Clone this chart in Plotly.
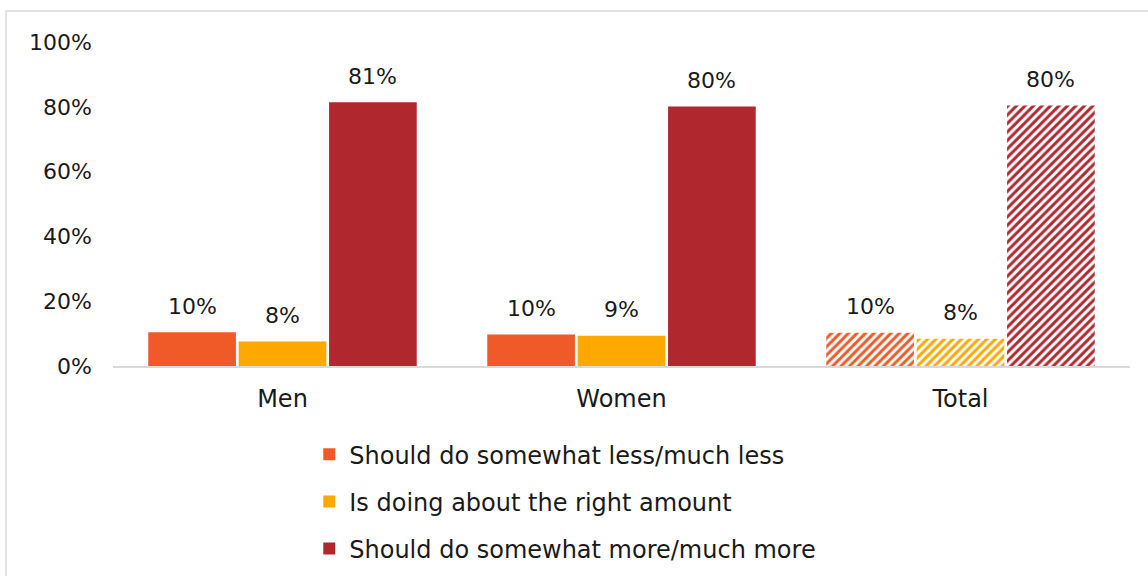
import plotly.graph_objects as go

categories = ["Men", "Women", "Total"]
series_names = [
    "Should do somewhat less/much less",
    "Is doing about the right amount",
    "Should do somewhat more/much more",
]
less_vals = [10.4, 9.7, 10.3]
right_vals = [7.6, 9.3, 8.4]
more_vals = [81.4, 80.1, 80.4]
colors = ["#F05A28", "#FFA800", "#B0282E"]
y_ticks = [0, 20, 40, 60, 80, 100]

FONT = "'DejaVu Sans', sans-serif"
TXT = "#1a1a1a"

W, H = 1148, 576
ML, MR, MT, MB = 113, 18, 42, 210
BARGAP = 0.2

all_vals = [less_vals, right_vals, more_vals]

fig = go.Figure()
for i, (name, vals, col) in enumerate(zip(series_names, all_vals, colors)):
    fig.add_trace(go.Bar(
        x=categories, y=vals, name=name,
        marker=dict(
            color=col,
            line=dict(width=0),
            pattern=dict(shape=["", "", "/"], fgcolor=col, bgcolor="white",
                         size=6, solidity=0.5, fillmode="replace", fgopacity=1),
        ),
        legendgroup=f"g{i}",
        hoverinfo="x+y+name",
    ))

# value labels placed above each bar
cat_px = (W - ML - MR) / len(categories)
slot_px = cat_px * (1 - BARGAP) / len(all_vals)
annotations = []
for i, vals in enumerate(all_vals):
    for c, v in zip(categories, vals):
        annotations.append(dict(
            x=c, y=v, xref="x", yref="y", text=f"{round(v)}%",
            showarrow=False, xshift=(i - 1) * slot_px, yshift=26,
            yanchor="middle", font=dict(size=22, family=FONT, color=TXT),
        ))

fig.update_layout(
    width=W, height=H,
    margin=dict(l=ML, r=MR, t=MT, b=MB, autoexpand=False),
    paper_bgcolor="white", plot_bgcolor="white",
    barmode="group", bargap=BARGAP, bargroupgap=0.03,
    font=dict(family=FONT, color=TXT),
    showlegend=True,
    legend=dict(x=0.193, y=-0.204, xanchor="left", yanchor="top",
                font=dict(size=24, family=FONT, color=TXT),
                tracegroupgap=13, itemwidth=30, bgcolor="rgba(0,0,0,0)"),
    xaxis=dict(showgrid=False, showline=True, linecolor="#d9d9d9", linewidth=1.5,
               ticks="", ticklabelstandoff=10, automargin=False,
               tickfont=dict(size=24, family=FONT, color=TXT)),
    yaxis=dict(range=[0, 100], tickvals=y_ticks, ticktext=[f"{v}%" for v in y_ticks],
               showgrid=False, zeroline=False, showline=False, ticks="",
               ticklabelstandoff=20, automargin=False,
               tickfont=dict(size=22, family=FONT, color=TXT)),
    annotations=annotations,
    shapes=[dict(type="rect", xref="paper", yref="paper",
                 x0=(6 - ML) / (W - ML - MR), x1=1.03,
                 y0=-0.7, y1=(H - MB - 11) / (H - MT - MB),
                 line=dict(color="#d9d9d9", width=1.5), fillcolor="rgba(0,0,0,0)",
                 layer="below")],
)

fig.write_html("out.html", config={"displayModeBar": False},
               post_script="document.body.style.margin='0';")
